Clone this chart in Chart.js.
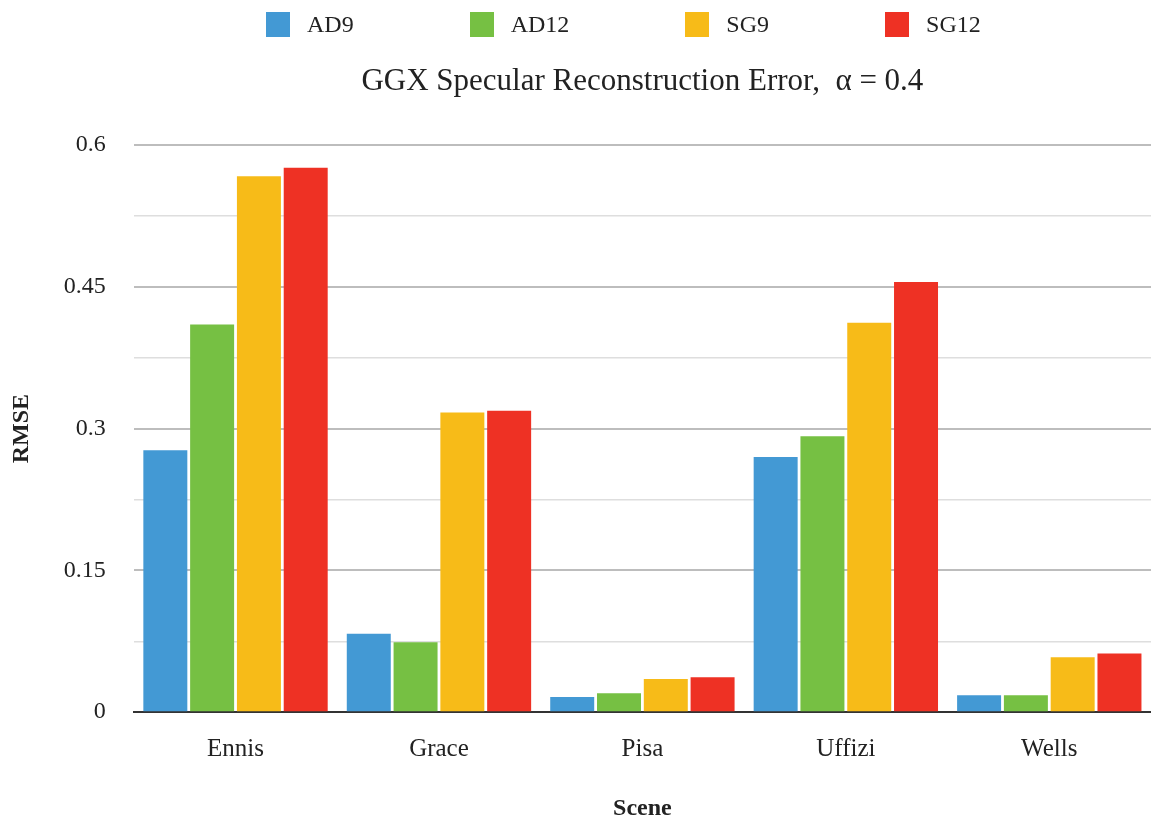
<!DOCTYPE html>
<html>
<head>
<meta charset="utf-8">
<script src="https://cdn.jsdelivr.net/npm/chart.js@4"></script>
<style>
  html, body { margin: 0; padding: 0; background: #fff; }
  #wrap { position: relative; width: 1151px; height: 823px; }
  #legend {
    position: absolute; top: 11px; left: 266px;
    display: flex; align-items: center;
    font-family: "Liberation Serif", serif; font-size: 24px; color: #222;
  }
  .item { display: flex; align-items: center; margin-right: 116px; }
  .box { width: 24px; height: 25px; margin-right: 17px; }
</style>
</head>
<body>
<div id="wrap">
  <canvas id="myChart" width="1151" height="823"></canvas>
  <div id="legend"></div>
</div>
<script>
// Scenes and per-method RMSE
const scenes = ['Ennis', 'Grace', 'Pisa', 'Uffizi', 'Wells'];
const seriesNames = ['AD9', 'AD12', 'SG9', 'SG12'];
const seriesColors = ['#4399d4', '#76c043', '#f7bb18', '#ee3124'];

const ad9 = [0.277, 0.083, 0.016, 0.270, 0.018];
const ad12 = [0.410, 0.074, 0.020, 0.292, 0.018];
const sg9 = [0.567, 0.317, 0.035, 0.412, 0.058];
const sg12 = [0.576, 0.319, 0.037, 0.455, 0.062];

const yMax = 0.6;
const yStep = 0.075; // gridline spacing, labels on every other line

const chartTitle = 'GGX Specular Reconstruction Error,  α = 0.4';
const fontFamily = '"Liberation Serif", serif';
const values = [ad9, ad12, sg9, sg12];

// Legend row above the chart
const legendEl = document.getElementById('legend');
seriesNames.forEach((name, i) => {
    const item = document.createElement('div');
    item.className = 'item';
    const box = document.createElement('span');
    box.className = 'box';
    box.style.background = seriesColors[i];
    const label = document.createElement('span');
    label.textContent = name;
    item.appendChild(box);
    item.appendChild(label);
    legendEl.appendChild(item);
});

// Title centred over the plot area rather than the whole canvas
const areaTitle = {
    id: 'areaTitle',
    afterDraw(chart) {
        const { ctx, chartArea } = chart;
        ctx.save();
        ctx.font = '31px ' + fontFamily;
        ctx.fillStyle = '#222';
        ctx.textAlign = 'center';
        ctx.textBaseline = 'middle';
        ctx.fillText(chartTitle, (chartArea.left + chartArea.right) / 2, 82);
        ctx.restore();
    }
};

const ctx = document.getElementById('myChart').getContext('2d');
const chart = new Chart(ctx, {
    type: 'bar',
    data: {
        labels: scenes,
        datasets: seriesNames.map((name, i) => ({
            label: name,
            data: values[i],
            backgroundColor: seriesColors[i],
            borderWidth: 0,
            categoryPercentage: 0.92,
            barPercentage: 0.94
        }))
    },
    plugins: [areaTitle],
    options: {
        responsive: false,
        animation: false,
        layout: { padding: { top: 145, left: 0, right: 0, bottom: 0 } },
        plugins: {
            legend: { display: false },
            tooltip: { enabled: false },
            title: { display: false }
        },
        scales: {
            x: {
                grid: { display: false },
                border: { display: true, color: '#333', width: 2 },
                ticks: {
                    color: '#222',
                    padding: 14,
                    font: { family: fontFamily, size: 25 }
                },
                title: {
                    display: true,
                    text: 'Scene',
                    color: '#222',
                    font: { family: fontFamily, size: 24, weight: 'bold' },
                    padding: { top: 16, bottom: 0 }
                }
            },
            y: {
                min: 0,
                max: yMax,
                border: { display: false },
                grid: {
                    drawTicks: false,
                    color: c => (c.index % 2 === 0 ? '#bdbdbd' : '#dedede'),
                    lineWidth: c => (c.index % 2 === 0 ? 2 : 1.5)
                },
                ticks: {
                    stepSize: yStep,
                    color: '#222',
                    padding: 28,
                    font: { family: fontFamily, size: 24 },
                    callback: (value, index) => (index % 2 === 0 ? String(Math.round(value * 100) / 100) : '')
                },
                title: {
                    display: true,
                    text: 'RMSE',
                    color: '#222',
                    font: { family: fontFamily, size: 24, weight: 'bold' },
                    padding: { top: 7, bottom: 0 }
                }
            }
        }
    }
});
</script>
</body>
</html>
